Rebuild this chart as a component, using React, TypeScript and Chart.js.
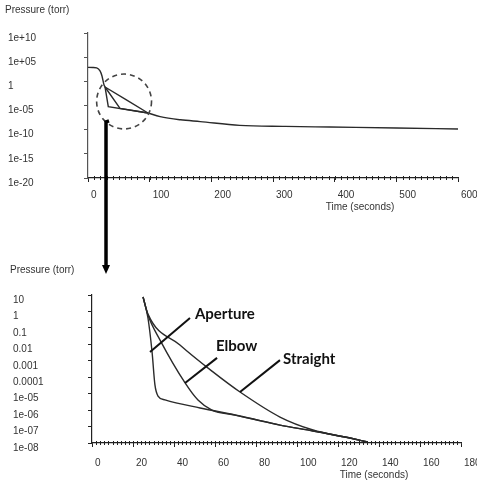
import React, { useEffect, useRef } from "react";
import { Chart, registerables } from "chart.js";

Chart.register(...registerables);

// ---------- Top chart (full pump-down) ----------
const topPreTime = [0, 8, 14, 19.5, 22.7, 26, 27.6];
const topPrePressure = [760, 740, 600, 140, 12.6, 0.17, 0.068];
const topApertureTime = [27.6, 32.9, 97.3];
const topAperturePressure = [0.068, 5.6e-6, 2.8e-7];
const topElbowTime = [27.6, 51.9, 97.3];
const topElbowPressure = [0.068, 2.5e-6, 2.8e-7];
const topStraightTime = [27.6, 61.6, 97.3];
const topStraightPressure = [0.068, 1.7e-4, 2.8e-7];
const topTailTime = [97.3, 117, 150, 182, 246, 320, 392, 500, 600];
const topTailPressure = [2.8e-7, 5e-8, 1.1e-8, 4.7e-9, 7.9e-10, 4.8e-10, 3.5e-10, 2.2e-10, 1.4e-10];

const topXTicks = [0, 100, 200, 300, 400, 500, 600];
const topYTicks = [1e10, 1e5, 1, 1e-5, 1e-10, 1e-15, 1e-20];
const topYLabels = ["1e+10", "1e+05", "1", "1e-05", "1e-10", "1e-15", "1e-20"];
const topMinorStep = 10;

// dashed circle (zoom marker) and arrow, in top-chart data units
const circleTimeSpan = [14, 103];
const circleCenterPressure = 6.8e-5;
const arrowTime = 29.2;
const arrowStartPressure = 4e-9;

// ---------- Bottom chart (zoomed) ----------
const apertureTime = [24.9, 27.3, 29.3, 30.7, 32.2, 35.6, 52.7, 72.2, 91.7, 107.8, 123.4, 134.6];
const aperturePressure = [7.6, 0.4, 3.4e-3, 3.4e-5, 7.2e-6, 4.2e-6, 1.35e-6, 4.4e-7, 1.23e-7, 5.4e-8, 2.3e-8, 1.15e-8];
const elbowTime = [24.9, 27.3, 33.2, 45.4, 51.7, 58.5, 69.8, 91.7, 107.8, 123.4, 134.6];
const elbowPressure = [7.6, 0.6, 0.018, 4.5e-5, 4.1e-6, 1.0e-6, 5.0e-7, 1.23e-7, 5.4e-8, 2.3e-8, 1.15e-8];
const straightTime = [24.9, 27.3, 42.9, 59.0, 72.2, 91.7, 107.8, 123.4, 134.6];
const straightPressure = [7.6, 0.69, 9.1e-3, 2.1e-4, 1.26e-5, 3.8e-7, 6.2e-8, 2.3e-8, 1.15e-8];

const bottomXTicks = [0, 20, 40, 60, 80, 100, 120, 140, 160, 180];
const bottomYTicks = [10, 1, 0.1, 0.01, 0.001, 0.0001, 1e-5, 1e-6, 1e-7, 1e-8];
const bottomYLabels = ["10", "1", "0.1", "0.01", "0.001", "0.0001", "1e-05", "1e-06", "1e-07", "1e-08"];
const bottomMinorStep = 2;

const calloutNames = ["Aperture", "Elbow", "Straight"];
const calloutTextTime = [50.2, 60.5, 93.2];
const calloutTextPressure = [0.7, 7.9e-3, 1.3e-3];
const leaderFromTime = [47.8, 61, 91.7];
const leaderFromPressure = [0.4, 1.5e-3, 1.1e-3];
const leaderToTime = [28.3, 45.4, 72.2];
const leaderToPressure = [3.4e-3, 4.5e-5, 1.26e-5];

const TEXT = "#333";
const LINE = "#2a2a2a";
const tickFont = { family: "'Liberation Sans', 'DejaVu Sans', sans-serif", size: 10 };

function series(t: number[], p: number[], smooth: boolean) {
  return {
    data: t.map((x, i) => ({ x, y: p[i] })),
    borderColor: LINE,
    borderWidth: 1.4,
    pointRadius: 0,
    fill: false,
    tension: smooth ? 0.4 : 0,
    cubicInterpolationMode: smooth ? "monotone" : "default",
  };
}

function labelFor(v: number, ticks: number[], labels: string[]) {
  const i = ticks.findIndex((t) => Math.abs(Math.log10(t) - Math.log10(v)) < 1e-6);
  return i >= 0 ? labels[i] : "";
}

export default function App() {
  const topRef = useRef<HTMLCanvasElement>(null);
  const bottomRef = useRef<HTMLCanvasElement>(null);

  useEffect(() => {
    const shared = { arrowX: 106 };

    const drawMinor = (chart: any, step: number, max: number) => {
      const { ctx, chartArea } = chart;
      const x = chart.scales.x;
      ctx.save();
      ctx.strokeStyle = "#222";
      ctx.lineWidth = 1;
      for (let t = step; t < max; t += step) {
        const px = Math.round(x.getPixelForValue(t)) + 0.5;
        ctx.beginPath();
        ctx.moveTo(px, chartArea.bottom - 2);
        ctx.lineTo(px, chartArea.bottom + 2);
        ctx.stroke();
      }
      ctx.restore();
    };

    const topDecor = {
      id: "topDecor",
      afterDraw(chart: any) {
        const { ctx } = chart;
        const x = chart.scales.x;
        const y = chart.scales.y;
        drawMinor(chart, topMinorStep, 600);
        ctx.save();
        ctx.fillStyle = TEXT;
        ctx.font = "10px 'Liberation Sans', sans-serif";
        ctx.textBaseline = "middle";
        ctx.textAlign = "left";
        ctx.fillText("Pressure (torr)", 5, 10);
        ctx.textAlign = "center";
        ctx.fillText("Time (seconds)", 360, 207);

        // dashed circle
        const x0 = x.getPixelForValue(circleTimeSpan[0]);
        const x1 = x.getPixelForValue(circleTimeSpan[1]);
        const cx = (x0 + x1) / 2;
        const r = (x1 - x0) / 2;
        const cy = y.getPixelForValue(circleCenterPressure);
        ctx.strokeStyle = "#444";
        ctx.lineWidth = 1.6;
        ctx.setLineDash([5, 4]);
        ctx.beginPath();
        ctx.arc(cx, cy, r, 0, Math.PI * 2);
        ctx.stroke();
        ctx.setLineDash([]);

        // arrow (upper part)
        const ax = x.getPixelForValue(arrowTime);
        shared.arrowX = ax;
        const ay = y.getPixelForValue(arrowStartPressure);
        ctx.strokeStyle = "#000";
        ctx.lineWidth = 3.5;
        ctx.beginPath();
        ctx.moveTo(ax + 3, ay - 1);
        ctx.lineTo(ax, ay);
        ctx.lineTo(ax, chart.height);
        ctx.stroke();
        ctx.restore();
      },
    };

    const bottomDecor = {
      id: "bottomDecor",
      afterDraw(chart: any) {
        const { ctx } = chart;
        const x = chart.scales.x;
        const y = chart.scales.y;
        drawMinor(chart, bottomMinorStep, 180);
        ctx.save();
        ctx.fillStyle = TEXT;
        ctx.font = "10px 'Liberation Sans', sans-serif";
        ctx.textBaseline = "middle";
        ctx.textAlign = "left";
        ctx.fillText("Pressure (torr)", 10, 30);
        ctx.textAlign = "center";
        ctx.fillText("Time (seconds)", 374, 235);

        // arrow (lower part)
        const ax = shared.arrowX;
        ctx.strokeStyle = "#000";
        ctx.fillStyle = "#000";
        ctx.lineWidth = 3.5;
        ctx.beginPath();
        ctx.moveTo(ax, 0);
        ctx.lineTo(ax, 26);
        ctx.stroke();
        ctx.beginPath();
        ctx.moveTo(ax - 4, 25);
        ctx.lineTo(ax + 4, 25);
        ctx.lineTo(ax, 34);
        ctx.closePath();
        ctx.fill();

        // callouts
        ctx.lineWidth = 2;
        ctx.strokeStyle = "#111";
        for (let i = 0; i < calloutNames.length; i++) {
          ctx.beginPath();
          ctx.moveTo(x.getPixelForValue(leaderFromTime[i]), y.getPixelForValue(leaderFromPressure[i]));
          ctx.lineTo(x.getPixelForValue(leaderToTime[i]), y.getPixelForValue(leaderToPressure[i]));
          ctx.stroke();
        }
        ctx.fillStyle = "#111";
        ctx.font = "bold 15px Lato, 'Open Sans', sans-serif";
        ctx.textAlign = "left";
        ctx.textBaseline = "middle";
        for (let i = 0; i < calloutNames.length; i++) {
          ctx.fillText(
            calloutNames[i],
            x.getPixelForValue(calloutTextTime[i]),
            y.getPixelForValue(calloutTextPressure[i])
          );
        }
        ctx.restore();
      },
    };

    const xScale = (min: number, max: number, ticks: number[], pad: number) => ({
      type: "linear",
      min,
      max,
      afterBuildTicks: (s: any) => {
        s.ticks = ticks.map((v) => ({ value: v }));
      },
      afterFit: (s: any) => {
        s.height = 40;
        s.paddingLeft = 0;
        s.paddingRight = 0;
      },
      grid: { display: true, drawOnChartArea: false, tickLength: 4, color: "#222" },
      border: { color: "#222", width: 1.2 },
      ticks: {
        align: "start",
        labelOffset: 3,
        padding: pad,
        color: TEXT,
        font: tickFont,
        maxRotation: 0,
        autoSkip: false,
        callback: (v: number) => String(v),
      },
    });

    const yScale = (min: number, max: number, ticks: number[], labels: string[], width: number, borderColor: string) => ({
      type: "logarithmic",
      min,
      max,
      afterBuildTicks: (s: any) => {
        s.ticks = ticks.map((v) => ({ value: v }));
      },
      afterFit: (s: any) => {
        s.width = width;
        s.paddingTop = 0;
        s.paddingBottom = 0;
      },
      grid: { display: true, drawOnChartArea: false, tickLength: 4, color: borderColor },
      border: { color: borderColor, width: 1.2 },
      ticks: {
        crossAlign: "far",
        labelOffset: 5,
        color: TEXT,
        font: tickFont,
        autoSkip: false,
        callback: (v: number) => labelFor(v, ticks, labels),
      },
    });

    const top = new Chart(topRef.current as HTMLCanvasElement, {
      type: "line",
      data: {
        datasets: [
          series(topPreTime, topPrePressure, true),
          series(topApertureTime, topAperturePressure, false),
          series(topElbowTime, topElbowPressure, false),
          series(topStraightTime, topStraightPressure, false),
          series(topTailTime, topTailPressure, true),
        ] as any,
      },
      options: {
        responsive: false,
        animation: false,
        events: [],
        layout: { padding: { left: 8, right: 19, top: 33, bottom: 22 } },
        plugins: { legend: { display: false }, tooltip: { enabled: false } },
        scales: {
          x: xScale(0, 600, topXTicks, 7) as any,
          y: yScale(1e-20, 1e10, topYTicks, topYLabels, 80, "#555") as any,
        },
      },
      plugins: [topDecor],
    });

    const bottom = new Chart(bottomRef.current as HTMLCanvasElement, {
      type: "line",
      data: {
        datasets: [
          series(apertureTime, aperturePressure, true),
          series(elbowTime, elbowPressure, true),
          series(straightTime, straightPressure, true),
        ] as any,
      },
      options: {
        responsive: false,
        animation: false,
        events: [],
        layout: { padding: { left: 13, right: 16, top: 55, bottom: 2 } },
        plugins: { legend: { display: false }, tooltip: { enabled: false } },
        scales: {
          x: xScale(0, 180, bottomXTicks, 10) as any,
          y: yScale(1e-8, 10, bottomYTicks, bottomYLabels, 79, "#222") as any,
        },
      },
      plugins: [bottomDecor],
    });

    return () => {
      top.destroy();
      bottom.destroy();
    };
  }, []);

  return (
    <div style={{ position: "absolute", left: 0, top: 0, width: 477, height: 485, background: "#fff" }}>
      <canvas ref={topRef} width={477} height={240} style={{ position: "absolute", left: 0, top: 0 }} />
      <canvas ref={bottomRef} width={477} height={245} style={{ position: "absolute", left: 0, top: 240 }} />
    </div>
  );
}
